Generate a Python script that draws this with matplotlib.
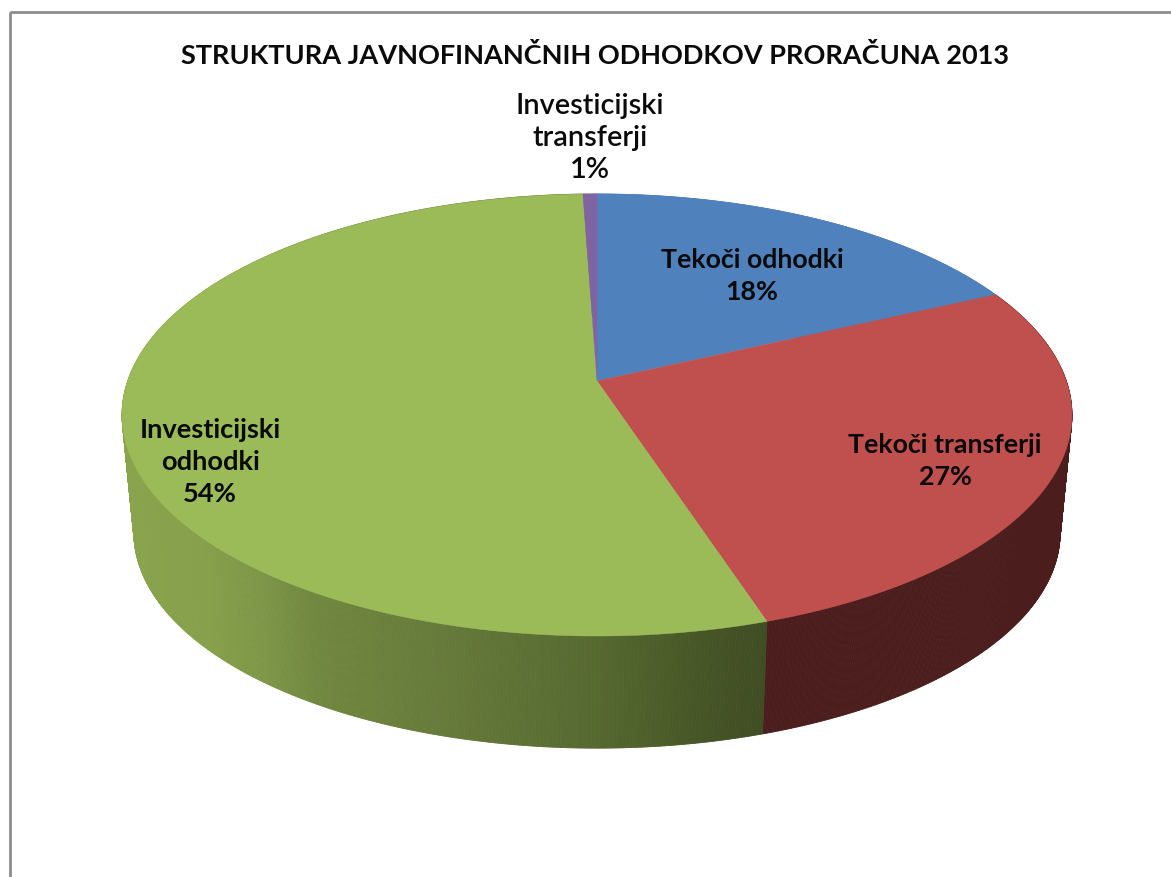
"""3D-look pie: structure of public-finance expenditure, budget 2013."""
import numpy as np
import matplotlib
matplotlib.use("Agg")
import matplotlib.pyplot as plt
from matplotlib.collections import PolyCollection
from matplotlib.patches import Polygon, Rectangle

plt.rcParams["font.family"] = ["Lato", "DejaVu Sans"]

TITLE = "STRUKTURA JAVNOFINANČNIH ODHODKOV PRORAČUNA 2013"
labels = ["Tekoči odhodki", "Tekoči transferji", "Investicijski\nodhodki", "Investicijski\ntransferji"]
# last slice is narrower than a full 1 % in the picture, the label rounds it up
values = [18, 27, 54.45, 0.55]

COLORS = ["#4F81BD", "#C0504D", "#9BBB59", "#8064A2"]
SIDE_RED = "#4B1E1D"
# side shading of the green slice, left to right (pixel x -> colour)
SHADE_X = [130, 200, 260, 310, 450, 600, 700, 765]
SHADE_RGB = np.array([[0x8A, 0xA3, 0x4D], [0x86, 0xA0, 0x4B], [0x7D, 0x96, 0x47], [0x71, 0x88, 0x3F],
                      [0x65, 0x79, 0x3A], [0x55, 0x68, 0x2F], [0x46, 0x56, 0x26], [0x3F, 0x4D, 0x23]]) / 255
LABEL_XY = [(752, 276), (945, 461), (210, 462), (590, 138)]
LABEL_SIZE = [19.3, 19.3, 19.6, 20.8]
LABEL_WEIGHT = ["bold", "bold", "bold", "semibold"]
LABEL_SPACING = [1.42, 1.42, 1.42, 1.27]

# perspective of the disc, in pixels
CX, APEX_Y, AX, AY, K = 597, 381, 469.3, 215.8, 0.1538
DEPTH_APEX = 118.5
DEPTH_SCALE = 0.975


def project(share, bottom=False):
    """share of the circle, clockwise from 12 o'clock -> pixel x, y"""
    t = 2 * np.pi * np.asarray(share)
    u, v = np.sin(t), np.cos(t)
    s, y0 = (DEPTH_SCALE, APEX_Y + DEPTH_APEX) if bottom else (1.0, APEX_Y)
    return CX + s * AX * u / (1 + K * v), y0 - s * AY * v / (1 + K * v)


fig = plt.figure(figsize=(11.71, 8.77), dpi=100)
ax = fig.add_axes([0, 0, 1, 1])
ax.set_xlim(0, 1171)
ax.set_ylim(877, 0)
ax.set_axis_off()

# chart frame, only top and left are in the picture
ax.add_patch(Rectangle((9.5, 11.5), 1300, 1000, fill=False, ec="#8C8C8C", lw=2))

edges = np.cumsum([0] + values) / sum(values)

# side walls as thin strips so the shading can follow x
for i, (a, b) in enumerate(zip(edges[:-1], edges[1:])):
    s = np.linspace(a, b, max(int((b - a) * 1400), 3))
    xt, yt = project(s)
    xb, yb = project(s, bottom=True)
    quads, cols = [], []
    for j in range(len(s) - 1):
        quads.append([(xt[j], yt[j]), (xt[j + 1], yt[j + 1]), (xb[j + 1], yb[j + 1]), (xb[j], yb[j])])
        xm = (xt[j] + xt[j + 1]) / 2
        if i == 2:
            cols.append([np.interp(xm, SHADE_X, SHADE_RGB[:, c]) for c in range(3)])
        elif i == 1:
            cols.append(matplotlib.colors.to_rgb(SIDE_RED))
        else:
            cols.append(matplotlib.colors.to_rgb(COLORS[i]))
    ax.add_collection(PolyCollection(quads, facecolors=cols, edgecolors=cols, linewidths=0.6, zorder=2))

# top face
for i, (a, b) in enumerate(zip(edges[:-1], edges[1:])):
    x, y = project(np.linspace(a, b, max(int((b - a) * 720), 4)))
    pts = np.column_stack([np.r_[CX, x], np.r_[APEX_Y, y]])
    ax.add_patch(Polygon(pts, closed=True, fc=COLORS[i], ec=COLORS[i], lw=0.3, zorder=3))

for lab, val, (lx, ly), fs, fw, sp in zip(labels, values, LABEL_XY, LABEL_SIZE, LABEL_WEIGHT, LABEL_SPACING):
    ax.text(lx, ly, f"{lab}\n{val:.0f}%", ha="center", va="center", fontsize=fs,
            fontweight=fw, color="#0a0a0a", linespacing=sp, zorder=5)

ax.text(595, 55, TITLE, ha="center", va="center", fontsize=19.5, fontweight="bold", color="#0a0a0a", zorder=5)

fig.savefig("out.png", dpi=100, facecolor="white")
